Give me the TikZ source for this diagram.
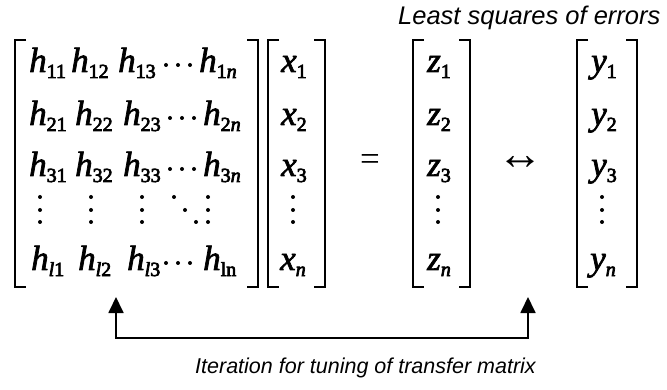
\documentclass[tikz,border=0pt]{standalone}
\usepackage{fontspec}
\setmainfont{Liberation Serif}
\newfontfamily\capfont{Liberation Sans}
\usetikzlibrary{arrows.meta}
\newcommand\heavy[1]{\special{pdf:literal direct 2 Tr 0.7 w}#1\special{pdf:literal direct 0 Tr}}
\newcommand\mysub[1]{\raisebox{-6pt}{\fontsize{20}{20}\selectfont #1}}
\newcommand\ent[2]{\heavy{\textit{#1}\mysub{#2}}}
\tikzset{
  entry/.style={inner sep=0pt, anchor=base west, font=\fontsize{35}{35}\selectfont},
  brk/.style={line width=2pt},
  dotc/.style={fill=black, draw=none},
  captext/.style={inner sep=0pt, anchor=base west, font=\capfont\itshape\fontsize{25.5}{25.5}\selectfont},
  conn/.style={line width=1.8pt, {Triangle[width=15pt,length=16pt]}-{Triangle[width=15pt,length=16pt]}}
}
\begin{document}
\begin{tikzpicture}[x=1pt,y=-1pt]
\useasboundingbox (0,0) rectangle (667,390);
% brackets
\def\btop{40}\def\bbot{287}
\foreach \l/\r in {15/258, 268/325, 413/470, 577/637}{
  \draw[brk] (\l+11,\btop) -- (\l,\btop) -- (\l,\bbot) -- (\l+11,\bbot);
  \draw[brk] (\r-11,\btop) -- (\r,\btop) -- (\r,\bbot) -- (\r-11,\bbot);
}
% H matrix rows
\node[entry] (h11) at (29,72) {\ent{h}{11}};
\node[entry] (h12) at (71,72) {\ent{h}{12}};
\node[entry] (h13) at (118,72) {\ent{h}{13}};
\node[entry] (h1n) at (199,72) {\ent{h}{1\textit{n}}};
\node[entry] (h21) at (29,125) {\ent{h}{21}};
\node[entry] (h22) at (75,125) {\ent{h}{22}};
\node[entry] (h23) at (123,125) {\ent{h}{23}};
\node[entry] (h2n) at (203,125) {\ent{h}{2\textit{n}}};
\node[entry] (h31) at (29,176) {\ent{h}{31}};
\node[entry] (h32) at (75,176) {\ent{h}{32}};
\node[entry] (h33) at (123,176) {\ent{h}{33}};
\node[entry] (h3n) at (203,176) {\ent{h}{3\textit{n}}};
\node[entry] (hl1) at (31,270) {\ent{h}{\textit{l}1}};
\node[entry] (hl2) at (78,270) {\ent{h}{\textit{l}2}};
\node[entry] (hl3) at (127,270) {\ent{h}{\textit{l}3}};
\node[entry] (hln) at (203,270) {\ent{h}{ln}};
% horizontal dots
\foreach \x/\y in {166/65, 170/118, 170/169, 166/263}{
  \foreach \d in {0,12,24}{\fill[dotc] (\x+\d,\y) circle (2pt);}
}
% vertical dots
\foreach \x in {40,91,142,208,293,438,602}{
  \foreach \y in {197,210,222}{\fill[dotc] (\x,\y) circle (2pt);}
}
% diagonal dots
\fill[dotc] (174,197) circle (2pt);
\fill[dotc] (185,210) circle (2pt);
\fill[dotc] (196,222) circle (2pt);
% x vector
\node[entry] (x1) at (281,72) {\ent{x}{1}};
\node[entry] (x2) at (281,125) {\ent{x}{2}};
\node[entry] (x3) at (281,176) {\ent{x}{3}};
\node[entry] (xn) at (280,270) {\ent{x}{\textit{n}}};
% z vector
\node[entry] (z1) at (427,72) {\ent{z}{1}};
\node[entry] (z2) at (427,125) {\ent{z}{2}};
\node[entry] (z3) at (427,176) {\ent{z}{3}};
\node[entry] (zn) at (427,270) {\ent{z}{\textit{n}}};
% y vector
\node[entry] (y1) at (591,72) {\ent{y}{1}};
\node[entry] (y2) at (591,125) {\ent{y}{2}};
\node[entry] (y3) at (591,176) {\ent{y}{3}};
\node[entry] (yn) at (590,270) {\ent{y}{\textit{n}}};
% operators
\node[inner sep=0pt, font=\fontsize{35}{35}\selectfont] (eq) at (370,163) {=};
\node[inner sep=0pt, font=\fontsize{46}{46}\selectfont] (lr) at (520,163) {↔};
% captions
\node[captext] (lsq) at (398,25) {Least squares of errors};
\node[captext, font=\capfont\itshape\fontsize{21.5}{21.5}\selectfont] (iter) at (195,373) {Iteration for tuning of transfer matrix};
% iteration connector
\coordinate (tipL) at (116,297);
\coordinate (tipR) at (528,297);
\draw[conn] (tipL) -- ++(0,41) -| (tipR);
\end{tikzpicture}
\end{document}
